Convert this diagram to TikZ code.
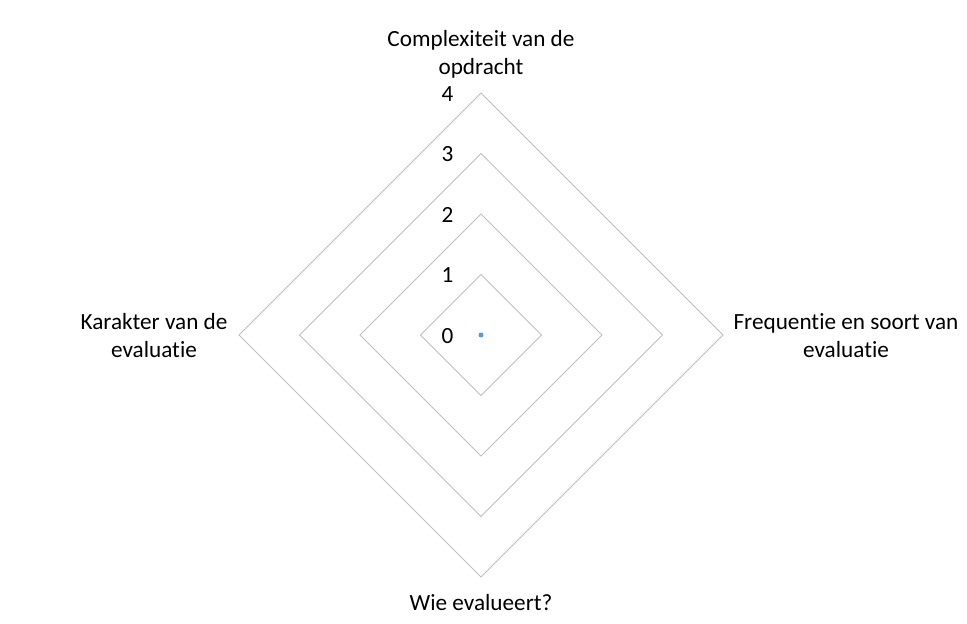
\documentclass[tikz,border=0pt]{standalone}
\usepackage{fontspec}
\setmainfont[Ligatures={NoCommon}]{Carlito}
\usetikzlibrary{calc}
\definecolor{ringgray}{RGB}{191,191,191}
\definecolor{dotblue}{RGB}{91,155,213}
\tikzset{
  ring/.style={draw=ringgray,line width=0.75pt},
  axislabel/.style={align=center,font=\fontsize{17.4}{21}\selectfont},
  ticklabel/.style={anchor=east,font=\fontsize{17.4}{21}\selectfont}
}
\begin{document}
\begin{tikzpicture}[x=0.75pt,y=-0.75pt]
  \useasboundingbox (0,0) rectangle (967,624);
  \coordinate (c) at (481,335);
  % rings
  \foreach \k in {1,...,4} {
   \draw[ring] ($(c)+(0,-60.5*\k)$) -- ($(c)+(60.5*\k,0)$) --
    ($(c)+(0,60.5*\k)$) -- ($(c)+(-60.5*\k,0)$) -- cycle;
  }
  % scale
  \foreach \k in {0,...,4} {
   \node[ticklabel] (t\k) at ($(c)+(-23,1-60.5*\k)$) {\k};
  }
  \fill[dotblue] (c) circle (2.5);
  % axes
  \node[axislabel] (top)   at (481,54)  {Complexiteit van de\\opdracht};
  \node[axislabel] (right) at (846,336) {Frequentie en soort van\\evaluatie};
  \node[axislabel] (bot)   at (481,603) {Wie evalueert?};
  \node[axislabel] (left)  at (154,336) {Karakter van de\\evaluatie};
\end{tikzpicture}
\end{document}
